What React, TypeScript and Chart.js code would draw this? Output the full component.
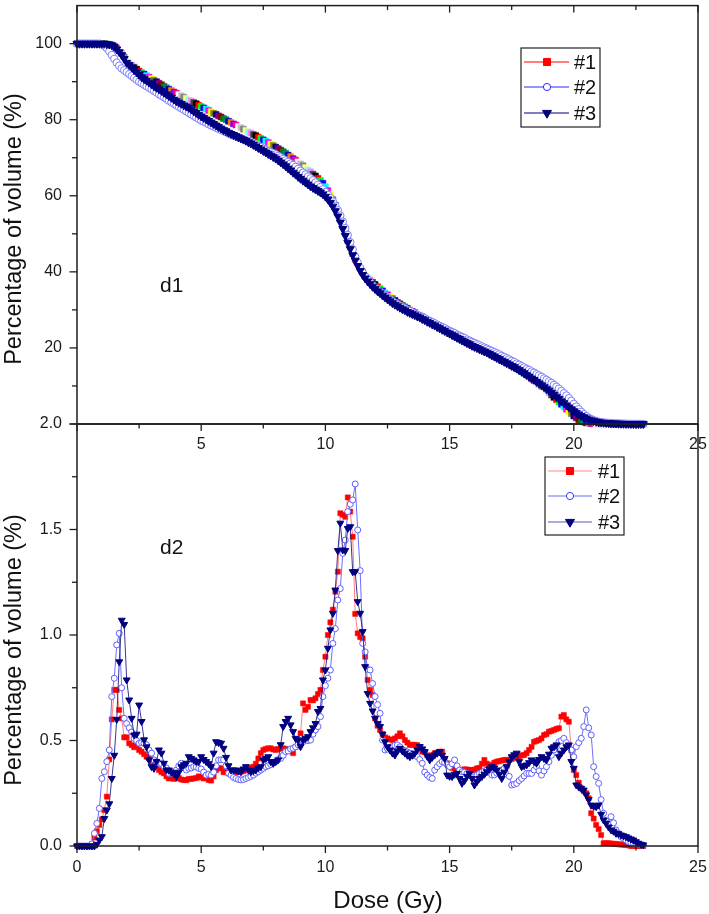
import React, { useEffect, useRef } from "react";
import { Chart, registerables } from "chart.js";

Chart.register(...registerables);

const FONT = "'Liberation Sans', Arial, Helvetica, sans-serif";
Chart.defaults.font.family = FONT;

const SERIES = ["#1", "#2", "#3"];

// Dose bins (Gy), 0.1 Gy
const DOSE = [
  0, 0.1, 0.2, 0.3, 0.4, 0.5, 0.6, 0.7, 0.8, 0.9,
  1.0, 1.1, 1.2, 1.3, 1.4, 1.5, 1.6, 1.7, 1.8, 1.9,
  2.0, 2.1, 2.2, 2.3, 2.4, 2.5, 2.6, 2.7, 2.8, 2.9,
  3.0, 3.1, 3.2, 3.3, 3.4, 3.5, 3.6, 3.7, 3.8, 3.9,
  4.0, 4.1, 4.2, 4.3, 4.4, 4.5, 4.6, 4.7, 4.8, 4.9,
  5.0, 5.1, 5.2, 5.3, 5.4, 5.5, 5.6, 5.7, 5.8, 5.9,
  6.0, 6.1, 6.2, 6.3, 6.4, 6.5, 6.6, 6.7, 6.8, 6.9,
  7.0, 7.1, 7.2, 7.3, 7.4, 7.5, 7.6, 7.7, 7.8, 7.9,
  8.0, 8.1, 8.2, 8.3, 8.4, 8.5, 8.6, 8.7, 8.8, 8.9,
  9.0, 9.1, 9.2, 9.3, 9.4, 9.5, 9.6, 9.7, 9.8, 9.9,
  10.0, 10.1, 10.2, 10.3, 10.4, 10.5, 10.6, 10.7, 10.8, 10.9,
  11.0, 11.1, 11.2, 11.3, 11.4, 11.5, 11.6, 11.7, 11.8, 11.9,
  12.0, 12.1, 12.2, 12.3, 12.4, 12.5, 12.6, 12.7, 12.8, 12.9,
  13.0, 13.1, 13.2, 13.3, 13.4, 13.5, 13.6, 13.7, 13.8, 13.9,
  14.0, 14.1, 14.2, 14.3, 14.4, 14.5, 14.6, 14.7, 14.8, 14.9,
  15.0, 15.1, 15.2, 15.3, 15.4, 15.5, 15.6, 15.7, 15.8, 15.9,
  16.0, 16.1, 16.2, 16.3, 16.4, 16.5, 16.6, 16.7, 16.8, 16.9,
  17.0, 17.1, 17.2, 17.3, 17.4, 17.5, 17.6, 17.7, 17.8, 17.9,
  18.0, 18.1, 18.2, 18.3, 18.4, 18.5, 18.6, 18.7, 18.8, 18.9,
  19.0, 19.1, 19.2, 19.3, 19.4, 19.5, 19.6, 19.7, 19.8, 19.9,
  20.0, 20.1, 20.2, 20.3, 20.4, 20.5, 20.6, 20.7, 20.8, 20.9,
  21.0, 21.1, 21.2, 21.3, 21.4, 21.5, 21.6, 21.7, 21.8, 21.9,
  22.0, 22.1, 22.2, 22.3, 22.4, 22.5, 22.6, 22.7, 22.8,
];

// d1: cumulative DVH, percentage of volume (%)
const CUM_1 = [
  100, 100, 100, 100, 100, 100, 100, 100, 100, 100,
  100, 100, 99.9, 99.8, 99.7, 99.3, 98.8, 98.2, 97.5, 96.5,
  95.5, 94.9, 94.3, 93.8, 93.3, 92.8, 92.4, 92.0, 91.6, 91.2,
  90.8, 90.4, 90.0, 89.6, 89.2, 88.8, 88.4, 88.0, 87.7, 87.3,
  87.0, 86.6, 86.3, 85.9, 85.6, 85.2, 84.9, 84.5, 84.2, 83.8,
  83.5, 83.1, 82.8, 82.4, 82.1, 81.7, 81.4, 81.0, 80.7, 80.3,
  80.0, 79.6, 79.3, 78.9, 78.6, 78.2, 77.9, 77.5, 77.2, 76.8,
  76.5, 76.1, 75.8, 75.4, 75.1, 74.7, 74.4, 74.0, 73.6, 73.2,
  72.8, 72.4, 72.0, 71.6, 71.2, 70.7, 70.3, 69.8, 69.4, 68.9,
  68.4, 67.9, 67.4, 66.8, 66.3, 65.7, 65.2, 64.6, 64.0, 63.3,
  62.4, 61.4, 60.3, 59.0, 57.5, 55.8, 54.0, 52.1, 50.2, 48.3,
  46.5, 44.8, 43.3, 42.0, 40.9, 40.0, 39.2, 38.5, 37.9, 37.3,
  36.7, 36.1, 35.6, 35.0, 34.5, 34.0, 33.5, 33.0, 32.5, 32.0,
  31.6, 31.2, 30.8, 30.4, 30.0, 29.6, 29.3, 28.9, 28.6, 28.2,
  27.8, 27.4, 27.0, 26.6, 26.2, 25.8, 25.4, 25.0, 24.6, 24.2,
  23.8, 23.4, 23.1, 22.7, 22.4, 22.0, 21.7, 21.3, 21.0, 20.6,
  20.3, 20.0, 19.7, 19.4, 19.1, 18.8, 18.5, 18.1, 17.8, 17.4,
  17.1, 16.7, 16.4, 16.0, 15.7, 15.3, 15.0, 14.6, 14.2, 13.8,
  13.3, 12.9, 12.4, 11.9, 11.4, 10.9, 10.4, 9.9, 9.4, 8.8,
  8.2, 7.6, 7.0, 6.4, 5.8, 5.2, 4.5, 3.9, 3.3, 2.7,
  2.1, 1.6, 1.1, 0.8, 0.5, 0.3, 0.2, 0.1, 0.06, 0.04,
  0.03, 0.02, 0.01, 0.01, 0, 0, 0, 0, 0, 0,
  0, 0, 0, 0, 0, 0, 0, 0, 0,
];
const CUM_2 = [
  100, 100, 100, 100, 100, 100, 100, 100, 100, 100,
  99.8, 99.4, 98.8, 98.0, 97.0, 96.0, 95.0, 94.2, 93.5, 93.0,
  92.5, 92.0, 91.5, 91.0, 90.5, 90.0, 89.6, 89.2, 88.8, 88.4,
  88.0, 87.6, 87.2, 86.7, 86.3, 85.9, 85.5, 85.0, 84.6, 84.2,
  83.8, 83.4, 83.0, 82.6, 82.2, 81.8, 81.4, 81.0, 80.6, 80.2,
  79.8, 79.5, 79.2, 78.8, 78.5, 78.2, 77.9, 77.6, 77.3, 77.0,
  76.7, 76.4, 76.1, 75.8, 75.6, 75.3, 75.1, 74.8, 74.5, 74.3,
  74.0, 73.7, 73.4, 73.1, 72.8, 72.4, 72.1, 71.8, 71.5, 71.2,
  70.9, 70.5, 70.1, 69.7, 69.3, 68.9, 68.5, 68.1, 67.6, 67.1,
  66.6, 66.1, 65.6, 65.1, 64.6, 64.1, 63.5, 62.9, 62.3, 61.7,
  61.0, 60.2, 59.4, 58.5, 57.4, 56.2, 54.8, 53.2, 51.5, 49.7,
  47.8, 45.9, 44.0, 42.4, 41.0, 39.8, 38.8, 38.0, 37.2, 36.5,
  35.9, 35.3, 34.8, 34.3, 33.8, 33.3, 32.8, 32.3, 31.9, 31.5,
  31.1, 30.7, 30.4, 30.0, 29.7, 29.3, 29.0, 28.7, 28.4, 28.1,
  27.8, 27.4, 27.1, 26.8, 26.5, 26.1, 25.8, 25.5, 25.2, 24.8,
  24.5, 24.2, 23.9, 23.5, 23.2, 22.9, 22.6, 22.2, 21.9, 21.6,
  21.3, 21.0, 20.7, 20.4, 20.1, 19.8, 19.5, 19.2, 18.9, 18.6,
  18.3, 17.9, 17.6, 17.3, 17.0, 16.6, 16.3, 15.9, 15.6, 15.2,
  14.9, 14.5, 14.2, 13.8, 13.5, 13.1, 12.8, 12.4, 12.0, 11.6,
  11.2, 10.8, 10.3, 9.8, 9.3, 8.7, 8.1, 7.5, 6.8, 6.1,
  5.3, 4.6, 3.9, 3.2, 2.6, 2.1, 1.6, 1.3, 1.0, 0.8,
  0.6, 0.5, 0.4, 0.35, 0.3, 0.25, 0.2, 0.18, 0.15, 0.12,
  0.1, 0.08, 0.07, 0.05, 0.04, 0.03, 0.02, 0.015, 0.01,
];
const CUM_3 = [
  100, 100, 100, 100, 100, 100, 100, 100, 100, 100,
  100, 100, 99.9, 99.8, 99.6, 99.2, 98.5, 97.8, 97.0, 96.0,
  95.0, 94.4, 93.8, 93.1, 92.5, 91.8, 91.2, 90.7, 90.3, 89.8,
  89.3, 88.8, 88.4, 88.0, 87.6, 87.1, 86.7, 86.2, 85.8, 85.3,
  84.9, 84.5, 84.2, 83.8, 83.5, 83.1, 82.7, 82.2, 81.8, 81.3,
  80.9, 80.5, 80.1, 79.7, 79.3, 78.9, 78.5, 78.1, 77.7, 77.3,
  77.0, 76.6, 76.3, 76.0, 75.7, 75.4, 75.1, 74.8, 74.5, 74.1,
  73.8, 73.4, 73.0, 72.6, 72.2, 71.8, 71.4, 71.0, 70.6, 70.2,
  69.8, 69.3, 68.8, 68.3, 67.8, 67.2, 66.7, 66.1, 65.6, 65.0,
  64.5, 64.0, 63.5, 63.0, 62.5, 62.1, 61.7, 61.3, 60.9, 60.4,
  59.8, 59.1, 58.2, 57.2, 56.0, 54.6, 53.0, 51.3, 49.5, 47.7,
  46.0, 44.4, 43.0, 41.6, 40.3, 39.2, 38.3, 37.5, 36.8, 36.1,
  35.5, 34.9, 34.4, 33.8, 33.3, 32.8, 32.3, 31.8, 31.4, 31.0,
  30.6, 30.2, 29.9, 29.5, 29.2, 28.9, 28.6, 28.3, 28.0, 27.6,
  27.3, 26.9, 26.6, 26.2, 25.9, 25.5, 25.2, 24.8, 24.5, 24.1,
  23.8, 23.4, 23.1, 22.7, 22.4, 22.0, 21.7, 21.3, 21.0, 20.6,
  20.3, 20.0, 19.7, 19.4, 19.1, 18.8, 18.5, 18.1, 17.8, 17.4,
  17.1, 16.7, 16.4, 16.0, 15.7, 15.3, 15.0, 14.6, 14.2, 13.8,
  13.4, 12.9, 12.5, 12.0, 11.6, 11.1, 10.7, 10.2, 9.7, 9.2,
  8.8, 8.2, 7.7, 7.1, 6.6, 6.0, 5.5, 4.9, 4.4, 3.9,
  3.4, 2.9, 2.5, 2.1, 1.8, 1.5, 1.2, 1.0, 0.8, 0.65,
  0.5, 0.42, 0.35, 0.3, 0.25, 0.21, 0.18, 0.15, 0.12, 0.1,
  0.08, 0.06, 0.05, 0.04, 0.03, 0.025, 0.02, 0.015, 0.01,
];

// d2: differential DVH, percentage of volume (%)
const DIFF_1 = [
  0, 0, 0, 0, 0, 0, 0.005, 0.04, 0.07, 0.1,
  0.126, 0.17, 0.234, 0.41, 0.6, 0.74, 0.74, 0.645, 0.605, 0.515,
  0.515, 0.487, 0.478, 0.468, 0.474, 0.455, 0.447, 0.435, 0.423, 0.415,
  0.408, 0.39, 0.376, 0.36, 0.35, 0.344, 0.33, 0.32, 0.325, 0.318,
  0.32, 0.322, 0.315, 0.313, 0.312, 0.318, 0.318, 0.32, 0.322, 0.33,
  0.325, 0.32, 0.33, 0.313, 0.31, 0.33, 0.36, 0.37, 0.368, 0.35,
  0.35, 0.344, 0.344, 0.35, 0.348, 0.352, 0.352, 0.355, 0.36, 0.365,
  0.37, 0.376, 0.39, 0.415, 0.44, 0.455, 0.46, 0.463, 0.463, 0.458,
  0.455, 0.46, 0.462, 0.463, 0.46, 0.455, 0.45, 0.44, 0.47, 0.5,
  0.534, 0.676, 0.645, 0.66, 0.692, 0.69, 0.7, 0.72, 0.74, 0.834,
  0.897, 1.0, 1.06, 1.12, 1.205, 1.3, 1.577, 1.57, 1.56, 1.652,
  1.585, 1.466, 1.1, 1.008, 0.99, 0.984, 0.897, 0.787, 0.74, 0.716,
  0.605, 0.57, 0.55, 0.53, 0.515, 0.51, 0.505, 0.502, 0.51, 0.52,
  0.534, 0.52, 0.502, 0.49, 0.479, 0.48, 0.479, 0.478, 0.465, 0.447,
  0.445, 0.43, 0.423, 0.43, 0.44, 0.44, 0.447, 0.447, 0.41, 0.392,
  0.38, 0.37, 0.368, 0.362, 0.36, 0.362, 0.363, 0.363, 0.36, 0.36,
  0.362, 0.368, 0.37, 0.39, 0.408, 0.39, 0.376, 0.385, 0.395, 0.4,
  0.402, 0.405, 0.408, 0.408, 0.408, 0.412, 0.418, 0.423, 0.425, 0.43,
  0.431, 0.44, 0.455, 0.47, 0.494, 0.498, 0.502, 0.51, 0.526, 0.53,
  0.542, 0.545, 0.55, 0.555, 0.558, 0.613, 0.621, 0.6, 0.589, 0.455,
  0.36, 0.336, 0.3, 0.273, 0.26, 0.25, 0.226, 0.155, 0.13, 0.1,
  0.08, 0.052, 0.013, 0.013, 0.013, 0.012, 0.01, 0.01, 0.008, 0.007,
  0.006, 0.005, 0.003, 0, 0, 0, 0, 0, 0,
];
const DIFF_2 = [
  0, 0, 0, 0, 0, 0, 0.01, 0.06, 0.107, 0.178,
  0.32, 0.352, 0.4, 0.455, 0.708, 0.795, 0.953, 1.008, 0.75, 0.605,
  0.58, 0.56, 0.54, 0.51, 0.5, 0.487, 0.49, 0.487, 0.48, 0.455,
  0.44, 0.408, 0.4, 0.392, 0.39, 0.376, 0.37, 0.344, 0.345, 0.35,
  0.36, 0.38, 0.392, 0.37, 0.36, 0.368, 0.37, 0.376, 0.374, 0.368,
  0.365, 0.35, 0.336, 0.34, 0.336, 0.35, 0.38, 0.408, 0.408, 0.408,
  0.38, 0.345, 0.336, 0.325, 0.32, 0.315, 0.313, 0.315, 0.32, 0.325,
  0.33, 0.336, 0.345, 0.352, 0.36, 0.368, 0.376, 0.38, 0.386, 0.392,
  0.4, 0.41, 0.415, 0.43, 0.447, 0.45, 0.46, 0.463, 0.47, 0.48,
  0.487, 0.495, 0.502, 0.5, 0.502, 0.53, 0.55, 0.566, 0.613, 0.708,
  0.76, 0.795, 0.834, 0.96, 1.03, 1.166, 1.22, 1.387, 1.45, 1.585,
  1.62, 1.64, 1.716, 1.498, 1.305, 0.96, 0.92, 0.837, 0.834, 0.77,
  0.708, 0.67, 0.629, 0.502, 0.455, 0.46, 0.468, 0.471, 0.477, 0.479,
  0.47, 0.455, 0.452, 0.445, 0.44, 0.435, 0.428, 0.423, 0.41, 0.392,
  0.35, 0.336, 0.325, 0.32, 0.36, 0.376, 0.39, 0.4, 0.396, 0.385,
  0.376, 0.39, 0.408, 0.38, 0.36, 0.352, 0.35, 0.344, 0.338, 0.333,
  0.329, 0.336, 0.344, 0.35, 0.356, 0.36, 0.35, 0.336, 0.337, 0.345,
  0.352, 0.36, 0.368, 0.376, 0.33, 0.289, 0.292, 0.297, 0.31, 0.32,
  0.332, 0.344, 0.344, 0.344, 0.36, 0.376, 0.356, 0.336, 0.356, 0.376,
  0.4, 0.43, 0.455, 0.47, 0.494, 0.5, 0.51, 0.49, 0.47, 0.455,
  0.423, 0.471, 0.49, 0.51, 0.566, 0.645, 0.56, 0.526, 0.376, 0.329,
  0.297, 0.22, 0.155, 0.12, 0.107, 0.139, 0.11, 0.076, 0.06, 0.044,
  0.035, 0.028, 0.02, 0.016, 0.013, 0.01, 0.008, 0.005, 0.003,
];
const DIFF_3 = [
  0, 0, 0, 0, 0, 0, 0, 0, 0.008, 0.028,
  0.044, 0.13, 0.17, 0.2, 0.32, 0.43, 0.6, 0.873, 1.07, 1.05,
  0.787, 0.692, 0.605, 0.526, 0.53, 0.668, 0.59, 0.503, 0.47, 0.408,
  0.376, 0.368, 0.4, 0.455, 0.44, 0.392, 0.36, 0.36, 0.35, 0.344,
  0.329, 0.35, 0.376, 0.385, 0.392, 0.423, 0.415, 0.408, 0.4, 0.4,
  0.423, 0.41, 0.4, 0.39, 0.376, 0.44, 0.494, 0.49, 0.487, 0.463,
  0.42, 0.38, 0.36, 0.36, 0.36, 0.356, 0.352, 0.365, 0.376, 0.36,
  0.352, 0.356, 0.36, 0.37, 0.376, 0.408, 0.415, 0.423, 0.4, 0.392,
  0.4, 0.408, 0.48, 0.566, 0.59, 0.605, 0.574, 0.542, 0.51, 0.502,
  0.471, 0.502, 0.51, 0.518, 0.542, 0.56, 0.58, 0.637, 0.652, 0.787,
  0.834, 0.937, 1.024, 1.103, 1.213, 1.4, 1.53, 1.403, 1.4, 1.505,
  1.513, 1.3, 1.3, 1.158, 1.103, 1.016, 0.85, 0.723, 0.676, 0.64,
  0.605, 0.58, 0.566, 0.53, 0.494, 0.47, 0.455, 0.44, 0.431, 0.45,
  0.463, 0.45, 0.44, 0.43, 0.423, 0.43, 0.44, 0.455, 0.471, 0.46,
  0.447, 0.425, 0.408, 0.42, 0.431, 0.44, 0.447, 0.43, 0.415, 0.336,
  0.33, 0.329, 0.34, 0.344, 0.32, 0.297, 0.31, 0.33, 0.344, 0.32,
  0.289, 0.305, 0.32, 0.329, 0.34, 0.352, 0.365, 0.376, 0.37, 0.36,
  0.34, 0.32, 0.35, 0.376, 0.4, 0.423, 0.432, 0.44, 0.4, 0.376,
  0.38, 0.384, 0.395, 0.408, 0.4, 0.392, 0.41, 0.423, 0.415, 0.408,
  0.435, 0.463, 0.47, 0.479, 0.423, 0.44, 0.455, 0.47, 0.479, 0.4,
  0.368, 0.289, 0.28, 0.273, 0.265, 0.242, 0.22, 0.194, 0.188, 0.186,
  0.194, 0.15, 0.123, 0.107, 0.09, 0.076, 0.07, 0.06, 0.058, 0.052,
  0.048, 0.044, 0.038, 0.033, 0.028, 0.02, 0.013, 0.008, 0.005,
];

// Axis settings
const X_MIN = 0;
const X_MAX = 25;
const X_STEP = 5;
const TOP_Y_MAX = 110;
const TOP_Y_STEP = 20;
const BOT_Y_MAX = 2.0;
const BOT_Y_STEP = 0.5;

const X_TITLE = "Dose (Gy)";
const Y_TITLE = "Percentage of volume (%)";
const PANEL_LABELS = ["d1", "d2"];

// Origin-style incremental colour list (used by #1 markers in d1)
const ORIGIN_COLORS = [
  "#000000", "#ff0000", "#00ff00", "#0000ff", "#00ffff", "#ff00ff",
  "#ffff00", "#808000", "#000080", "#800080", "#800000", "#008000",
  "#008080", "#0000a0", "#ff8000", "#8000ff", "#ff0080", "#ffffff",
  "#c0c0c0", "#808080", "#ffff80", "#80ffff", "#ff80ff", "#404040",
];

const pts = (ys: number[]) => DOSE.map((d, i) => ({ x: d, y: ys[i] }));

function drawMarker(ctx: CanvasRenderingContext2D, style: string, x: number, y: number, r: number, fill: string, stroke: string) {
  ctx.beginPath();
  if (style === "rect") {
    const s = r * Math.SQRT1_2;
    ctx.rect(x - s, y - s, 2 * s, 2 * s);
  } else if (style === "circle") {
    ctx.arc(x, y, r, 0, Math.PI * 2);
  } else {
    ctx.moveTo(x - r * 0.866, y - r * 0.5);
    ctx.lineTo(x + r * 0.866, y - r * 0.5);
    ctx.lineTo(x, y + r);
    ctx.closePath();
  }
  ctx.fillStyle = fill;
  ctx.fill();
  ctx.strokeStyle = stroke;
  ctx.lineWidth = 1;
  ctx.stroke();
}

const framePlugin = {
  id: "frame",
  afterDraw(chart: any, _args: any, opts: any) {
    const { ctx, chartArea: a } = chart;
    const xs = chart.scales.x;
    const ys = chart.scales.y;
    ctx.save();
    ctx.strokeStyle = "#1e1e1e";
    ctx.lineWidth = 1.5;
    ctx.strokeRect(a.left, a.top, a.right - a.left, a.bottom - a.top);
    ctx.lineWidth = 1.3;
    const seg = (x1: number, y1: number, x2: number, y2: number) => {
      ctx.beginPath();
      ctx.moveTo(x1, y1);
      ctx.lineTo(x2, y2);
      ctx.stroke();
    };
    const isMajor = (v: number, step: number) => Math.abs(v / step - Math.round(v / step)) < 1e-6;
    const nx = Math.round((xs.max - xs.min) / opts.xMinor);
    for (let i = 0; i <= nx; i++) {
      const v = xs.min + i * opts.xMinor;
      const px = xs.getPixelForValue(v);
      const len = isMajor(v, opts.xMajor) ? 7 : 4.5;
      seg(px, a.bottom, px, a.bottom + len);
      if (opts.topTicks) seg(px, a.top, px, a.top + len);
    }
    const ny = Math.round((ys.max - ys.min) / opts.yMinor);
    for (let i = 0; i <= ny; i++) {
      const v = ys.min + i * opts.yMinor;
      const major = isMajor(v, opts.yMajor);
      if (i === ny && !major) continue;
      const py = ys.getPixelForValue(v);
      const len = major ? 7.5 : 5;
      seg(a.left - len, py, a.left, py);
    }

    ctx.fillStyle = "#111";
    ctx.save();
    ctx.translate(opts.yTitle.x, opts.yTitle.y);
    ctx.rotate(-Math.PI / 2);
    ctx.font = `${opts.yTitle.size}px ${FONT}`;
    ctx.textAlign = "center";
    ctx.textBaseline = "alphabetic";
    ctx.fillText(Y_TITLE, 0, 0);
    ctx.restore();
    if (opts.xTitle) {
      ctx.font = `${opts.xTitle.size}px ${FONT}`;
      ctx.textAlign = "center";
      ctx.textBaseline = "alphabetic";
      ctx.fillText(X_TITLE, opts.xTitle.x, opts.xTitle.y);
    }
    ctx.font = `21px ${FONT}`;
    ctx.textAlign = "left";
    ctx.textBaseline = "alphabetic";
    ctx.fillText(opts.panel.text, opts.panel.x, opts.panel.y);

    const lg = opts.legend;
    ctx.fillStyle = "#fff";
    ctx.fillRect(lg.x, lg.y, lg.w, lg.h);
    ctx.strokeStyle = "#222";
    ctx.lineWidth = 1.2;
    ctx.strokeRect(lg.x, lg.y, lg.w, lg.h);
    lg.items.forEach((it: any, i: number) => {
      const yy = lg.rows[i];
      ctx.strokeStyle = it.line;
      ctx.lineWidth = 1.2;
      seg(lg.x1, yy, lg.x2, yy);
      drawMarker(ctx, it.style, lg.mx, yy, it.r, it.fill, it.stroke);
      ctx.fillStyle = "#111";
      ctx.font = `20px ${FONT}`;
      ctx.textAlign = "left";
      ctx.textBaseline = "middle";
      ctx.fillText(SERIES[i], lg.tx, yy + 1);
    });
    ctx.restore();
  },
};

const tickFont = { family: FONT, size: 16 };

function topConfig(): any {
  const colors = DOSE.map((_, i) => ORIGIN_COLORS[i % ORIGIN_COLORS.length]);
  return {
    type: "scatter",
    data: {
      datasets: [
        {
          label: SERIES[0], data: pts(CUM_1), showLine: true, clip: false, order: 2,
          borderColor: "rgba(255,0,0,0.6)", borderWidth: 1,
          pointStyle: "rect", pointRadius: 4.2, pointBorderWidth: 0.5,
          pointBackgroundColor: colors, pointBorderColor: colors,
        },
        {
          label: SERIES[1], data: pts(CUM_2), showLine: true, clip: false, order: 1,
          borderColor: "rgb(120,120,255)", borderWidth: 1,
          pointStyle: "circle", pointRadius: 3.7, pointBorderWidth: 1,
          pointBackgroundColor: "#ffffff", pointBorderColor: "rgb(125,125,255)",
        },
        {
          label: SERIES[2], data: pts(CUM_3), showLine: true, clip: false, order: 0,
          borderColor: "#000080", borderWidth: 1,
          pointStyle: "triangle", pointRotation: 180, pointRadius: 4.6, pointBorderWidth: 1,
          pointBackgroundColor: "#000080", pointBorderColor: "#000080",
        },
      ],
    },
    options: {
      animation: false,
      responsive: false,
      events: [],
      layout: { padding: { left: 0, right: 11, top: 2, bottom: 0 } },
      plugins: {
        legend: { display: false },
        tooltip: { enabled: false },
        frame: {
          xMajor: 5, xMinor: 2.5, yMajor: 20, yMinor: 10, topTicks: true,
          yTitle: { x: 20.5, y: 229, size: 23.5 },
          panel: { text: PANEL_LABELS[0], x: 160, y: 292 },
          legend: {
            x: 521, y: 48, w: 79, h: 79, rows: [62, 87, 113],
            x1: 524, x2: 569, mx: 547, tx: 574,
            items: [
              { line: "#ff0000", style: "rect", r: 5, fill: "#ff0000", stroke: "#ff0000" },
              { line: "#2b2bff", style: "circle", r: 3.6, fill: "#ffffff", stroke: "#2b2bff" },
              { line: "#000080", style: "tri", r: 5.2, fill: "#000080", stroke: "#000080" },
            ],
          },
        },
      },
      scales: {
        x: {
          type: "linear", min: X_MIN, max: X_MAX,
          afterFit(s: any) { s.height = 46; s.paddingLeft = 0; s.paddingRight = 0; },
          grid: { display: false, drawTicks: false },
          border: { display: false },
          ticks: {
            stepSize: X_STEP, padding: 11, color: "#1a1a1a", font: tickFont,
            maxRotation: 0, autoSkip: false,
            callback: (v: number) => (v === 0 ? "" : String(v)),
          },
        },
        y: {
          type: "linear", min: 0, max: TOP_Y_MAX,
          afterFit(s: any) { s.width = 77; s.paddingTop = 0; s.paddingBottom = 0; },
          grid: { display: false, drawTicks: false },
          border: { display: false },
          ticks: {
            stepSize: TOP_Y_STEP, padding: 15, color: "#1a1a1a", font: tickFont,
            autoSkip: false,
            callback: (v: number) => (v > 0 && v <= 100 && v % TOP_Y_STEP === 0 ? String(v) : ""),
          },
        },
      },
    },
    plugins: [framePlugin],
  };
}

function botConfig(): any {
  return {
    type: "scatter",
    data: {
      datasets: [
        {
          label: SERIES[0], data: pts(DIFF_1), showLine: true, clip: false, order: 2,
          borderColor: "rgba(255,40,40,0.6)", borderWidth: 1,
          pointStyle: "rect", pointRadius: 3.6, pointBorderWidth: 0.5,
          pointBackgroundColor: "#ff0000", pointBorderColor: "#ff0000",
        },
        {
          label: SERIES[1], data: pts(DIFF_2), showLine: true, clip: false, order: 1,
          borderColor: "rgb(110,110,255)", borderWidth: 1,
          pointStyle: "circle", pointRadius: 3, pointBorderWidth: 1,
          pointBackgroundColor: "#ffffff", pointBorderColor: "rgb(95,95,255)",
        },
        {
          label: SERIES[2], data: pts(DIFF_3), showLine: true, clip: false, order: 0,
          borderColor: "rgba(20,20,130,0.85)", borderWidth: 1,
          pointStyle: "triangle", pointRotation: 180, pointRadius: 4, pointBorderWidth: 1,
          pointBackgroundColor: "#000080", pointBorderColor: "#000080",
        },
      ],
    },
    options: {
      animation: false,
      responsive: false,
      events: [],
      layout: { padding: { left: 0, right: 11, top: 24, bottom: 0 } },
      plugins: {
        legend: { display: false },
        tooltip: { enabled: false },
        frame: {
          xMajor: 5, xMinor: 2.5, yMajor: 0.5, yMinor: 0.25, topTicks: false,
          yTitle: { x: 20.5, y: 250, size: 23.5 },
          xTitle: { x: 388, y: 508, size: 24 },
          panel: { text: PANEL_LABELS[1], x: 160, y: 154 },
          legend: {
            x: 545, y: 57, w: 79, h: 78, rows: [71, 96, 122],
            x1: 548, x2: 592, mx: 570, tx: 598,
            items: [
              { line: "#ff8c8c", style: "rect", r: 5, fill: "#ff0000", stroke: "#ff0000" },
              { line: "#6b6bff", style: "circle", r: 3.6, fill: "#ffffff", stroke: "#3b3bff" },
              { line: "#5b5bb0", style: "tri", r: 5.2, fill: "#000080", stroke: "#000080" },
            ],
          },
        },
      },
      scales: {
        x: {
          type: "linear", min: X_MIN, max: X_MAX,
          afterFit(s: any) { s.height = 68; s.paddingLeft = 0; s.paddingRight = 0; },
          grid: { display: false, drawTicks: false },
          border: { display: false },
          ticks: {
            stepSize: X_STEP, padding: 12, color: "#1a1a1a", font: tickFont,
            maxRotation: 0, autoSkip: false,
            callback: (v: number) => String(v),
          },
        },
        y: {
          type: "linear", min: 0, max: BOT_Y_MAX,
          afterFit(s: any) { s.width = 77; s.paddingTop = 0; s.paddingBottom = 0; },
          grid: { display: false, drawTicks: false },
          border: { display: false },
          ticks: {
            stepSize: BOT_Y_STEP, padding: 15, color: "#1a1a1a", font: tickFont,
            autoSkip: false,
            callback: (v: number) => Number(v).toFixed(1),
          },
        },
      },
    },
    plugins: [framePlugin],
  };
}

export default function App() {
  const topRef = useRef<HTMLCanvasElement>(null);
  const botRef = useRef<HTMLCanvasElement>(null);
  useEffect(() => {
    const c1 = new Chart(topRef.current as HTMLCanvasElement, topConfig());
    const c2 = new Chart(botRef.current as HTMLCanvasElement, botConfig());
    return () => {
      c1.destroy();
      c2.destroy();
    };
  }, []);
  return (
    <div style={{ position: "absolute", left: 0, top: 0, width: 709, height: 914, background: "#ffffff" }}>
      <canvas ref={topRef} width={709} height={470}
        style={{ position: "absolute", left: 0, top: 0, width: 709, height: 470 }} />
      <canvas ref={botRef} width={709} height={514}
        style={{ position: "absolute", left: 0, top: 400, width: 709, height: 514 }} />
    </div>
  );
}
